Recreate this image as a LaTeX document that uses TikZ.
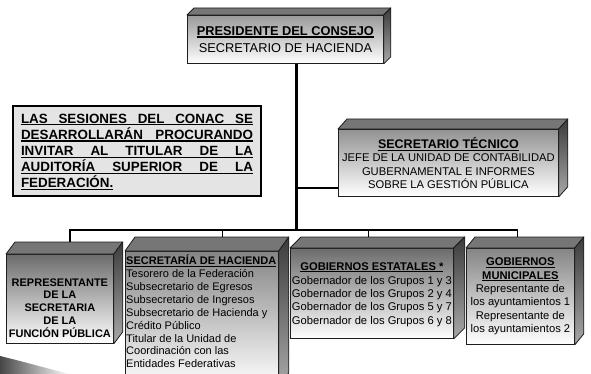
\documentclass[tikz,border=0pt]{standalone}
\usepackage{fontspec}
\setmainfont{Liberation Sans}
\usetikzlibrary{calc}
\definecolor{edgec}{HTML}{1E1E1E}
\definecolor{topc}{HTML}{767676}
\definecolor{sidetop}{HTML}{3C3C3C}
\definecolor{sidebot}{HTML}{A8A8A8}
\definecolor{notefill}{HTML}{E4E4E4}
\definecolor{presc}{HTML}{9A9A9A}
\definecolor{tecc}{HTML}{929292}
\definecolor{darkc}{HTML}{6C6C6C}
\definecolor{midc}{HTML}{858585}
\definecolor{arrowdark}{HTML}{3A3A3A}
\newcommand\ulx[1]{\setbox0\hbox{#1}\rlap{\rule[-2.2pt]{\wd0}{1.1pt}}\box0}
\newcommand\fsz[2]{\fontsize{#1}{#2}\selectfont}
\newcommand\cubesides[3]{%
  \filldraw[topface] (#1.north west) -- ++(#2,-#3) -- ($(#1.north east)+(#2,-#3)$) -- (#1.north east) -- cycle;
  \shadedraw[sideface] (#1.north east) -- ++(#2,-#3) -- ($(#1.south east)+(#2,-#3)$) -- (#1.south east) -- cycle;}
\tikzset{
  frontbox/.style={draw=edgec, line width=0.8pt, anchor=north west, inner sep=0pt},
  topface/.style={fill=topc, draw=edgec, line width=0.8pt, line join=round},
  sideface/.style={top color=sidetop, bottom color=sidebot, draw=edgec, line width=0.8pt, line join=round},
  trunk/.style={line width=3pt},
  bus/.style={line width=1.8pt},
  boxtext/.style={inner sep=0pt, align=center}
}
\begin{document}
\begin{tikzpicture}[x=1pt,y=-1pt]
\path[use as bounding box] (0,0) rectangle (591,374);
\clip (0,0) rectangle (591,374);

% curved arrow tail at bottom left
\shade[left color=arrowdark, right color=white] (-5,354) -- (0,356) .. controls (25,362) and (45,368) .. (70,374) -- (-5,374) -- cycle;

% top box
\node[frontbox, top color=presc, bottom color=white, minimum width=196pt, minimum height=48pt] (pres) at (187,15) {};
\cubesides{pres}{7}{7}
\node[boxtext, font={\fsz{12.8}{17}}] (prestext) at (pres.center) {\ulx{\textbf{PRESIDENTE DEL CONSEJO}}\\SECRETARIO DE HACIENDA};

% note box
\node[draw=black, line width=2pt, fill=notefill, minimum width=248pt, minimum height=90pt, anchor=north west, inner sep=0pt] (note) at (12,105) {};
\node[inner sep=0pt, align=left, font={\fsz{13.4}{16.2}\bfseries}] (notetext) at ($(note.center)+(0,1)$) {%
\ulx{\makebox[232pt][s]{LAS SESIONES DEL CONAC SE}}\\
\ulx{\makebox[232pt][s]{DESARROLLARÁN PROCURANDO}}\\
\ulx{\makebox[232pt][s]{INVITAR AL TITULAR DE LA}}\\
\ulx{\makebox[232pt][s]{AUDITORÍA SUPERIOR DE LA}}\\
\ulx{FEDERACIÓN.}};

% secretario tecnico
\node[frontbox, top color=tecc, bottom color=white, minimum width=220pt, minimum height=67pt] (tec) at (338,129) {};
\cubesides{tec}{9}{10}
\node[boxtext, font={\fsz{11.2}{13.3}}] (tectext) at (tec.center) {{\fsz{12.5}{13.3}\ulx{\textbf{SECRETARIO TÉCNICO}}}\\JEFE DE LA UNIDAD DE CONTABILIDAD\\GUBERNAMENTAL E INFORMES\\SOBRE LA GESTIÓN PÚBLICA};

% bottom boxes
\node[frontbox, top color=darkc, bottom color=white, minimum width=107pt, minimum height=89pt] (b1) at (6,254) {};
\cubesides{b1}{9}{12}
\node[boxtext, font={\fsz{11}{12.8}\bfseries}] (b1text) at ($(b1.center)+(0,9)$) {REPRESENTANTE\\DE LA\\SECRETARIA\\DE LA\\FUNCIÓN PÚBLICA};

\node[frontbox, top color=midc, bottom color=white, minimum width=153pt, minimum height=135pt] (b2) at (125,251) {};
\cubesides{b2}{10}{14}
\node[inner sep=0pt, align=left, anchor=north west, font={\fsz{11}{12.85}}] (b2text) at ($(b2.north west)+(1,4)$) {\ulx{\textbf{SECRETARÍA DE HACIENDA}}\\Tesorero de la Federación\\Subsecretario de Egresos\\Subsecretario de Ingresos\\Subsecretario de Hacienda y\\Crédito Público\\Titular de la Unidad de\\Coordinación con las\\Entidades Federativas};

\node[frontbox, top color=darkc, bottom color=white, minimum width=163pt, minimum height=90pt] (b3) at (290,248) {};
\cubesides{b3}{11}{11}
\node[boxtext, font={\fsz{11.2}{13.3}}] (b3text) at ($(b3.center)+(0,1)$) {{\fsz{11.2}{13.3}\ulx{\textbf{GOBIERNOS ESTATALES *}}}\\[1pt]Gobernador de los Grupos 1 y 3\\Gobernador de los Grupos 2 y 4\\Gobernador de los Grupos 5 y 7\\Gobernador de los Grupos 6 y 8};

\node[frontbox, top color=midc, bottom color=white, minimum width=108pt, minimum height=96pt] (b4) at (466,248) {};
\cubesides{b4}{9}{11}
\node[boxtext, font={\fsz{11.2}{13.4}}] (b4text) at (b4.center) {\ulx{\textbf{GOBIERNOS}}\\\ulx{\textbf{MUNICIPALES}}\\Representante de\\los ayuntamientos 1\\Representante de\\los ayuntamientos 2};

% connectors
\coordinate (j) at (296,230);
\coordinate (t1) at ($(tec.south west)+(0,-9)$);
\coordinate (d1) at ($(b1.north)+(10,-12)$);
\coordinate (d2) at ($(b2.north)+(20.5,-14)$);
\coordinate (d3) at ($(b3.north)+(-3.5,-11)$);
\coordinate (d4) at ($(b4.north)+(-3,-11)$);
\draw[trunk] (pres.south -| j) -- ([yshift=-0.9pt]j);
\draw[bus] (j |- t1) -- (t1);
\draw[bus] (d1) |- (j) -| (d4);
\draw[bus] (d2) -- (d2 |- j);
\draw[bus] (d3) -- (d3 |- j);
\end{tikzpicture}
\end{document}
